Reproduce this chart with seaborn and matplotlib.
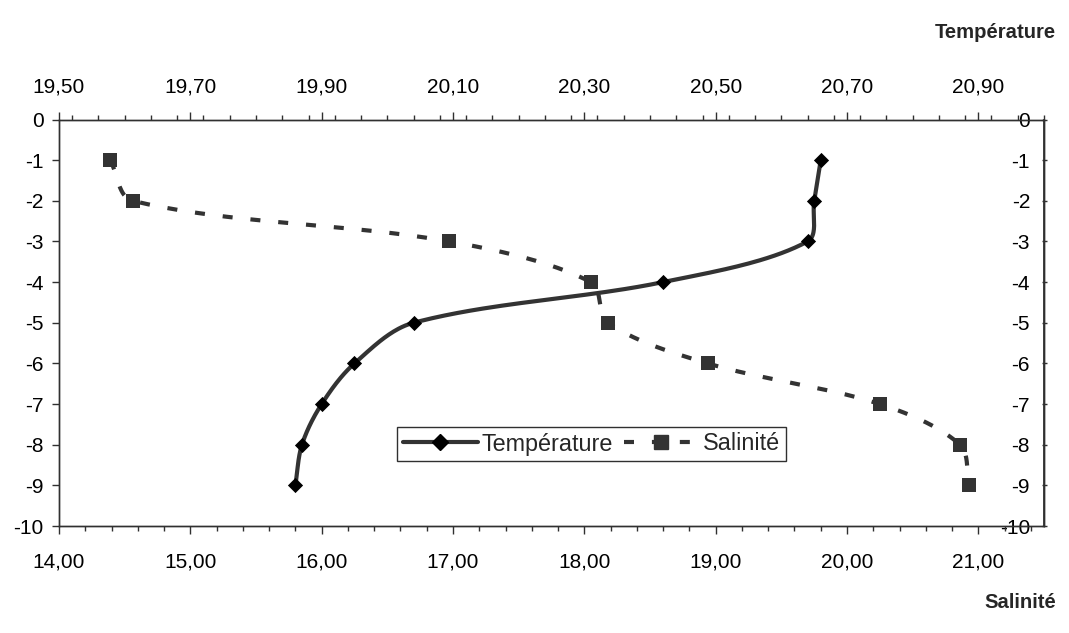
import numpy as np
import pandas as pd
import matplotlib
matplotlib.use("Agg")
import matplotlib.pyplot as plt
from matplotlib.lines import Line2D
from matplotlib.ticker import FixedLocator, FixedFormatter, MultipleLocator
import seaborn as sns

# Depth profile (m) with temperature (top axis) and salinity (bottom axis)
depth = [-1, -2, -3, -4, -5, -6, -7, -8, -9]
temperature = [20.66, 20.65, 20.64, 20.42, 20.04, 19.95, 19.90, 19.87, 19.86]
salinity = [14.39, 14.56, 16.97, 18.05, 18.18, 18.94, 20.25, 20.86, 20.93]

sal_ticks = [14, 15, 16, 17, 18, 19, 20, 21]
temp_ticks = [19.5, 19.7, 19.9, 20.1, 20.3, 20.5, 20.7, 20.9]
depth_ticks = [0, -1, -2, -3, -4, -5, -6, -7, -8, -9, -10]

sal_labels = [f"{v:.2f}".replace(".", ",") for v in sal_ticks]
temp_labels = [f"{v:.2f}".replace(".", ",") for v in temp_ticks]
depth_labels = [str(v) for v in depth_ticks]

SAL_LIM = (14, 21.5)
TEMP_LIM = (19.5, 21.0)
DEPTH_LIM = (-10, 0)

sns.set_theme(style="white")
plt.rcParams["font.family"] = ["Liberation Sans", "DejaVu Sans"]
plt.rcParams["axes.unicode_minus"] = False

LINE = "#333333"
AXC = "#303030"
DASH = (0, (2.4, 4.3))


def smooth(a, x, y, n=40):
    """Bezier smoothing through the points, computed in screen space with
    tangents weighted by the neighbouring segment lengths."""
    p = a.transData.transform(np.column_stack([x, y]).astype(float))
    m = len(p)
    tan = np.zeros_like(p)
    lens = np.linalg.norm(np.diff(p, axis=0), axis=1)
    t = np.linspace(0, 1, n)[:, None]
    parts = []
    for i in range(m - 1):
        p1, p2 = p[i], p[i + 1]
        l_mid = lens[i]
        # outgoing control point at p1
        if i == 0:
            c1 = p1 + (p2 - p1) / 3
        else:
            d = p2 - p[i - 1]
            c1 = p1 + d * l_mid / (lens[i - 1] + l_mid) / 3
        # incoming control point at p2
        if i == m - 2:
            c2 = p2 - (p2 - p1) / 3
        else:
            d = p[i + 2] - p1
            c2 = p2 - d * l_mid / (lens[i + 1] + l_mid) / 3
        seg = (1 - t) ** 3 * p1 + 3 * (1 - t) ** 2 * t * c1 + 3 * (1 - t) * t ** 2 * c2 + t ** 3 * p2
        parts.append(seg if i == 0 else seg[1:])
    s = a.transData.inverted().transform(np.vstack(parts))
    return pd.DataFrame({"x": s[:, 0], "y": s[:, 1]})


fig = plt.figure(figsize=(10.69, 6.33), dpi=100)
ax = fig.add_axes([59 / 1069, 1 - 526 / 633, 985 / 1069, 406.5 / 633])
ax2 = ax.twiny()
ax.set_xlim(*SAL_LIM)
ax.set_ylim(*DEPTH_LIM)
ax2.set_xlim(*TEMP_LIM)
ax2.set_ylim(*DEPTH_LIM)

# Salinity on the bottom axis
sal_curve = smooth(ax, salinity, depth)
sns.lineplot(data=sal_curve, x="x", y="y", sort=False, estimator=None, ax=ax,
             color=LINE, linewidth=3, linestyle=DASH,
             dash_capstyle="butt", legend=False)
sns.scatterplot(x=salinity, y=depth, ax=ax, marker="s", s=100, color=LINE,
                linewidth=0, zorder=3, legend=False)

# Temperature on the top axis
temp_curve = smooth(ax2, temperature, depth)
sns.lineplot(data=temp_curve, x="x", y="y", sort=False, estimator=None, ax=ax2,
             color=LINE, linewidth=3, legend=False)
sns.scatterplot(x=temperature, y=depth, ax=ax2, marker="D", s=60, color="black",
                linewidth=0, zorder=3, legend=False)

ax.set_xlim(*SAL_LIM)
ax.set_ylim(*DEPTH_LIM)
ax2.set_xlim(*TEMP_LIM)
ax2.set_ylim(*DEPTH_LIM)

for a in (ax, ax2):
    a.set_xlabel("")
    a.set_ylabel("")
    for sp in a.spines.values():
        sp.set_color(AXC)
        sp.set_linewidth(1)
    a.grid(False)

ax.xaxis.set_major_locator(FixedLocator(sal_ticks))
ax.xaxis.set_major_formatter(FixedFormatter(sal_labels))
ax.xaxis.set_minor_locator(MultipleLocator(0.2))
ax.yaxis.set_major_locator(FixedLocator(depth_ticks))
ax.yaxis.set_major_formatter(FixedFormatter(depth_labels))

ax2.xaxis.set_major_locator(FixedLocator(temp_ticks))
ax2.xaxis.set_major_formatter(FixedFormatter(temp_labels))
ax2.xaxis.set_minor_locator(MultipleLocator(0.04))

ax.tick_params(axis="x", which="major", direction="out", length=5.8, width=1,
               color=AXC, pad=13.5, labelsize=15, labelcolor="black", bottom=True)
ax.tick_params(axis="x", which="minor", direction="out", length=3.4, width=1,
               color=AXC, bottom=True)
ax.tick_params(axis="y", which="major", direction="out", length=5, width=1,
               color=AXC, pad=6, labelsize=15, labelcolor="black", left=True)

ax2.tick_params(axis="x", which="major", direction="out", length=5.5, width=1,
                color=AXC, pad=11.4, labelsize=15, labelcolor="black", top=True)
ax2.tick_params(axis="x", which="minor", direction="out", length=3.6, width=1,
                color=AXC, top=True)

# Right-hand depth scale with labels drawn just inside the frame
sec = ax.secondary_yaxis("right")
sec.yaxis.set_major_locator(FixedLocator(depth_ticks))
sec.yaxis.set_major_formatter(FixedFormatter(depth_labels))
sec.tick_params(axis="y", which="major", direction="inout", length=3.6, width=1,
                color=AXC, pad=-11.8, labelsize=15, labelcolor="black")
sec.spines["right"].set_color(AXC)
for tk in sec.yaxis.get_major_ticks():
    tk.label2.set_horizontalalignment("right")

# Legend
handles = [
    Line2D([], [], color=LINE, lw=3, marker="D", markersize=7.7,
           markerfacecolor="black", markeredgecolor="black"),
    Line2D([], [], color=LINE, lw=3, linestyle=DASH, dash_capstyle="butt",
           marker="s", markersize=10, markerfacecolor=LINE, markeredgecolor=LINE),
]
leg = ax2.legend(handles, ["Température", "Salinité"], loc="center",
                 bbox_to_anchor=((591.5 - 59) / 985, (526 - 444) / 406.5),
                 ncol=2, fontsize=16.8, frameon=True, fancybox=False, shadow=False,
                 framealpha=1, edgecolor=AXC, borderpad=0.25, handlelength=3.2,
                 handletextpad=0.18, columnspacing=0.45, borderaxespad=0)
leg.get_frame().set_linewidth(1)

# Axis titles
fig.text(1056 / 1069, 1 - 32 / 633, "Température", ha="right", va="center",
         fontsize=14.6, fontweight="bold")
fig.text(1056 / 1069, 1 - 603 / 633, "Salinité", ha="right", va="center",
         fontsize=14.6, fontweight="bold")

fig.savefig("out.png", dpi=100, facecolor="white")
